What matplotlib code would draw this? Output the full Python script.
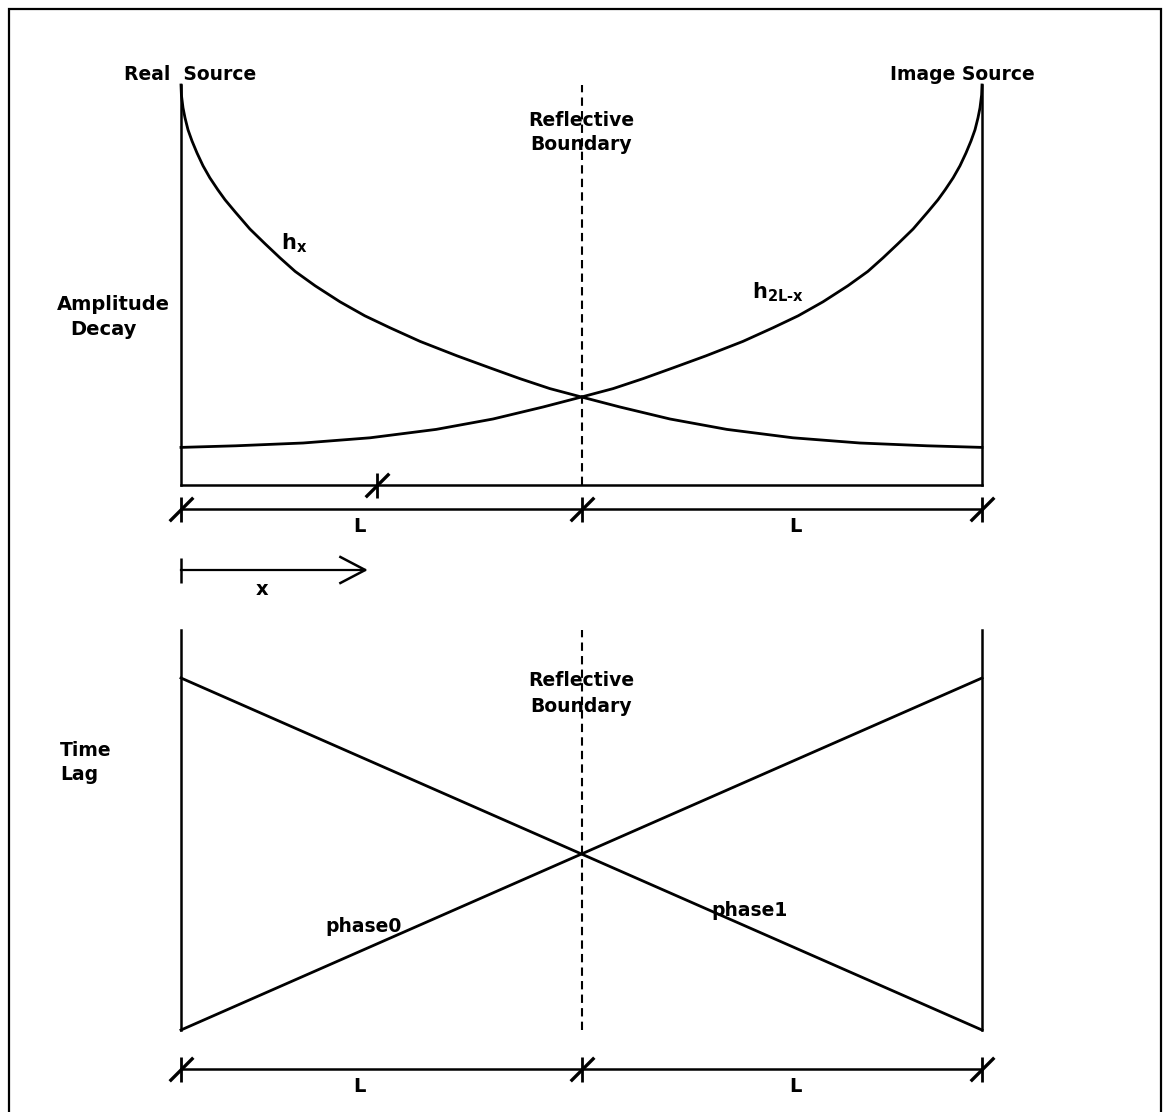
import matplotlib
matplotlib.use("Agg")
import matplotlib.pyplot as plt
from matplotlib.path import Path
from matplotlib.patches import Rectangle

# ---- data -------------------------------------------------------------
# distance from the real source, in units of L (boundary sits at 1, image source at 2)
distance = [0.000, 0.001, 0.005, 0.010, 0.0175, 0.0275, 0.040, 0.055, 0.072, 0.092,
            0.110, 0.135, 0.172, 0.210, 0.247, 0.285, 0.335, 0.397, 0.459, 0.522,
            0.597, 0.689, 0.771, 0.846, 0.921, 1.000, 1.096, 1.221, 1.363, 1.528,
            1.695, 1.863, 2.000]
# amplitude of the wave travelling out from the real source (h_x)
amp_real = [1.000, 0.975, 0.943, 0.918, 0.888, 0.860, 0.830, 0.798, 0.768, 0.738,
            0.713, 0.683, 0.640, 0.603, 0.568, 0.534, 0.498, 0.458, 0.423, 0.393,
            0.359, 0.323, 0.293, 0.266, 0.241, 0.220, 0.195, 0.165, 0.139, 0.118,
            0.105, 0.098, 0.094]

# time lag of the two phases along the same distance axis
lag_distance = [0.0, 2.0]
phase0 = [0.0, 0.88]
phase1 = [0.88, 0.0]

boundary = 1.0
dim_ticks = [0.0, 1.0, 2.0]
dim_label_pos = [0.445, 1.533]
x_marker = 0.49
x_arrow_end = 0.46

# ---- figure -----------------------------------------------------------
W, H = 1163, 1112
fig = plt.figure(figsize=(W / 100, H / 100), dpi=100)
plt.rcParams["font.family"] = "DejaVu Sans"
plt.rcParams["mathtext.fontset"] = "custom"
plt.rcParams["mathtext.bf"] = "DejaVu Sans:bold"
plt.rcParams["mathtext.rm"] = "DejaVu Sans:bold"


def fx(px):
    return px / W


def fy(py):
    return 1 - py / H


LW = 2.0
SPINE_LW = 1.8
slash = Path([(-1, -1), (1, 1)], [Path.MOVETO, Path.LINETO])

# outer frame
fig.add_artist(Rectangle((fx(9), fy(1125)), fx(1161) - fx(9), fy(9) - fy(1125),
                         transform=fig.transFigure, fill=False, lw=1.6,
                         edgecolor="black"))

ax_top = fig.add_axes([fx(181), fy(485), fx(982) - fx(181), 400 / H])
ax_bot = fig.add_axes([fx(181), fy(1030), fx(982) - fx(181), 400 / H])

for ax in (ax_top, ax_bot):
    ax.set_xlim(0, 2)
    ax.set_ylim(0, 1)
    ax.set_xticks([])
    ax.set_yticks([])
    ax.patch.set_alpha(0)
    for s in ax.spines.values():
        s.set_linewidth(SPINE_LW)
    ax.spines["top"].set_visible(False)
ax_bot.spines["bottom"].set_visible(False)


def tick_cross(ax, xs, y):
    ax.plot(xs, [y] * len(xs), ls="none", marker="|", ms=18, mew=2.0,
            color="black", clip_on=False)
    ax.plot(xs, [y] * len(xs), ls="none", marker=slash, ms=17, mew=2.4,
            color="black", clip_on=False)


# ---- top panel: amplitude decay ----------------------------------------
image_distance = [2.0 - d for d in distance]
ax_top.plot(distance, amp_real, color="black", lw=LW, clip_on=False,
            solid_joinstyle="round")
ax_top.plot(image_distance, amp_real, color="black", lw=LW, clip_on=False,
            solid_joinstyle="round")
ax_top.plot([boundary, boundary], [0, 1], color="black", lw=1.5,
            ls=(0, (4, 2.5)))

tick_cross(ax_top, [x_marker], 0.0)
dim_y_top = -0.06
ax_top.plot([0, 2], [dim_y_top, dim_y_top], color="black", lw=SPINE_LW,
            clip_on=False)
tick_cross(ax_top, dim_ticks, dim_y_top)
for xl in dim_label_pos:
    ax_top.text(xl, -0.1025, "L", ha="center", va="center", fontsize=14,
                fontweight="bold", clip_on=False)

# x direction arrow
arr_y = -0.2125
ax_top.plot([0, x_arrow_end], [arr_y, arr_y], color="black", lw=1.6,
            clip_on=False)
ax_top.plot([0], [arr_y], marker="|", ms=18, mew=1.8, color="black",
            clip_on=False)
ax_top.plot([x_arrow_end - 0.062, x_arrow_end, x_arrow_end - 0.062],
            [arr_y + 0.0325, arr_y, arr_y - 0.0325], color="black", lw=1.8,
            clip_on=False)
ax_top.text(0.202, -0.26, "x", ha="center", va="center", fontsize=14,
            fontweight="bold", clip_on=False)

ax_top.text(0.25, 0.59, r"$\mathbf{h_x}$", ha="left", va="baseline",
            fontsize=15, clip_on=False)
ax_top.text(1.426, 0.4675, r"$\mathbf{h_{2L\text{-}x}}$", ha="left",
            va="baseline", fontsize=15, clip_on=False)

# ---- bottom panel: time lag --------------------------------------------
ax_bot.plot(lag_distance, phase0, color="black", lw=LW, clip_on=False)
ax_bot.plot(lag_distance, phase1, color="black", lw=LW, clip_on=False)
ax_bot.plot([boundary, boundary], [0, 1], color="black", lw=1.5,
            ls=(0, (4, 2.5)))
ax_bot.text(0.455, 0.26, "phase0", ha="center", va="center", fontsize=13.5,
            fontweight="bold")
ax_bot.text(1.42, 0.30, "phase1", ha="center", va="center", fontsize=13.5,
            fontweight="bold")

dim_y_bot = -0.0975
ax_bot.plot([0, 2], [dim_y_bot, dim_y_bot], color="black", lw=SPINE_LW,
            clip_on=False)
tick_cross(ax_bot, dim_ticks, dim_y_bot)
for xl in dim_label_pos:
    ax_bot.text(xl, -0.14, "L", ha="center", va="center", fontsize=14,
                fontweight="bold", clip_on=False)

# ---- annotations ---------------------------------------------------------
txt = dict(fontsize=13.5, fontweight="bold", va="center")
fig.text(fx(190), fy(75), "Real  Source", ha="center", **txt)
fig.text(fx(962), fy(75), "Image Source", ha="center", **txt)
fig.text(fx(581), fy(120), "Reflective", ha="center", **txt)
fig.text(fx(581), fy(144), "Boundary", ha="center", **txt)
fig.text(fx(581), fy(681), "Reflective", ha="center", **txt)
fig.text(fx(581), fy(706), "Boundary", ha="center", **txt)
fig.text(fx(57), fy(305), "Amplitude", ha="left", fontsize=14,
         fontweight="bold", va="center")
fig.text(fx(70), fy(330), "Decay", ha="left", fontsize=14,
         fontweight="bold", va="center")
fig.text(fx(60), fy(750), "Time", ha="left", **txt)
fig.text(fx(60), fy(774), "Lag", ha="left", **txt)

fig.savefig("out.png", dpi=100, facecolor="white")
